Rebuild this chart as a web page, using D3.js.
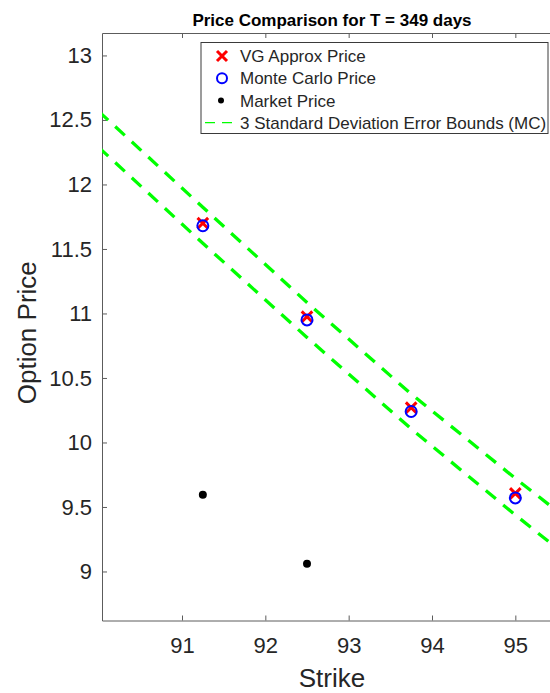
<!DOCTYPE html>
<html>
<head>
<meta charset="utf-8">
<script src="https://cdn.jsdelivr.net/npm/d3@7"></script>
<style>
  html, body { margin: 0; padding: 0; background: #fff; }
  svg { display: block; font-family: "Liberation Sans", Arial, Helvetica, sans-serif; }
</style>
</head>
<body>
<svg id="chart" width="550" height="693"></svg>
<script>
// Option prices by strike for a maturity of 349 days
const strikes = [91.25, 92.5, 93.75, 95];
const vgPrice = [11.70, 10.975, 10.27, 9.605];
const mcPrice = [11.68, 10.95, 10.24, 9.57];

const marketStrikes = [91.25, 92.5];
const marketPrice = [9.595, 9.06];

// Monte Carlo price +/- 3 standard deviations
const boundStrikes = [90, 91.25, 92.5, 93.75, 95, 96];
const upperBound = [12.567, 11.823, 11.085, 10.376, 9.722, 9.216];
const lowerBound = [12.288, 11.544, 10.814, 10.106, 9.438, 8.922];

const xTicks = [91, 92, 93, 94, 95];
const yTicks = [9, 9.5, 10, 10.5, 11, 11.5, 12, 12.5, 13];
const xLimits = [90.04, 95.56];
const yLimits = [8.62, 13.174];

const titleText = "Price Comparison for T = 349 days";
const xLabelText = "Strike";
const yLabelText = "Option Price";
const legendLabels = ["VG Approx Price", "Monte Carlo Price", "Market Price",
                      "3 Standard Deviation Error Bounds (MC)"];

const svg = d3.select("#chart");
const margin = { left: 102, top: 33 };
const plotW = 460, plotH = 587.5;
const axisColor = "#5c5c5c", textColor = "#262626";

const x = d3.scaleLinear().domain(xLimits).range([0, plotW]);
const y = d3.scaleLinear().domain(yLimits).range([plotH, 0]);

const g = svg.append("g").attr("transform", `translate(${margin.left},${margin.top})`);

g.append("defs").append("clipPath").attr("id", "plotClip")
  .append("rect").attr("width", plotW).attr("height", plotH);

// Axes with inward ticks (box style)
function styleAxis(sel) {
  sel.select(".domain").attr("stroke", axisColor).attr("stroke-width", 1);
  sel.selectAll(".tick line").attr("stroke", axisColor).attr("stroke-width", 1);
  sel.selectAll(".tick text").attr("fill", textColor)
    .style("font-size", "22px").style("font-family", "\"Liberation Sans\", Arial, sans-serif");
}

g.append("g").attr("transform", `translate(0,${plotH})`)
  .call(d3.axisBottom(x).tickValues(xTicks).tickFormat(d3.format("d"))
        .tickSizeInner(-5).tickSizeOuter(0).tickPadding(17))
  .call(styleAxis);

g.append("g")
  .call(d3.axisTop(x).tickValues(xTicks).tickFormat("")
        .tickSizeInner(-5).tickSizeOuter(0))
  .call(styleAxis);

g.append("g")
  .call(d3.axisLeft(y).tickValues(yTicks).tickFormat(d => String(d))
        .tickSizeInner(-5).tickSizeOuter(0).tickPadding(10))
  .call(styleAxis);

g.append("g").attr("transform", `translate(${plotW},0)`)
  .call(d3.axisRight(y).tickValues(yTicks).tickFormat("")
        .tickSizeInner(-5).tickSizeOuter(0))
  .call(styleAxis);

// Plot contents
const plot = g.append("g").attr("clip-path", "url(#plotClip)");

const boundLine = d3.line().x(d => x(d[0])).y(d => y(d[1]));
[upperBound, lowerBound].forEach(vals => {
  plot.append("path")
    .datum(boundStrikes.map((s, i) => [s, vals[i]]))
    .attr("d", boundLine)
    .attr("fill", "none")
    .attr("stroke", "#00ff00")
    .attr("stroke-width", 3.3)
    .attr("stroke-dasharray", "13,9.5");
});

const crossPath = h => `M${-h},${-h}L${h},${h}M${-h},${h}L${h},${-h}`;

plot.selectAll(".vg").data(strikes).enter().append("path")
  .attr("class", "vg")
  .attr("transform", (d, i) => `translate(${x(d)},${y(vgPrice[i])})`)
  .attr("d", crossPath(5.3))
  .attr("stroke", "#ff0000").attr("stroke-width", 3).attr("fill", "none");

plot.selectAll(".mc").data(strikes).enter().append("circle")
  .attr("class", "mc")
  .attr("cx", d => x(d)).attr("cy", (d, i) => y(mcPrice[i]))
  .attr("r", 5.5)
  .attr("fill", "none").attr("stroke", "#0000ff").attr("stroke-width", 2);

plot.selectAll(".mkt").data(marketStrikes).enter().append("circle")
  .attr("class", "mkt")
  .attr("cx", d => x(d)).attr("cy", (d, i) => y(marketPrice[i]))
  .attr("r", 4).attr("fill", "#000");

// Title and axis labels
svg.append("text")
  .attr("x", margin.left + plotW / 2).attr("y", 26)
  .attr("text-anchor", "middle")
  .attr("fill", "#000")
  .style("font-size", "17px").style("font-weight", "bold")
  .text(titleText);

svg.append("text")
  .attr("x", margin.left + plotW / 2).attr("y", 687)
  .attr("text-anchor", "middle")
  .attr("fill", textColor)
  .style("font-size", "26px")
  .text(xLabelText);

svg.append("text")
  .attr("transform", `translate(36,${margin.top + plotH / 2 + 6}) rotate(-90)`)
  .attr("text-anchor", "middle")
  .attr("fill", textColor)
  .style("font-size", "26px")
  .text(yLabelText);

// Legend
const legend = svg.append("g").attr("transform", "translate(201,42.5)");
legend.append("rect")
  .attr("width", 347).attr("height", 91)
  .attr("fill", "#fff").attr("stroke", "#3a3a3a").attr("stroke-width", 1);

const rowY = i => 13.5 + i * 22.2;
const mx = 21;

legend.append("path")
  .attr("transform", `translate(${mx},${rowY(0)})`)
  .attr("d", crossPath(5))
  .attr("stroke", "#ff0000").attr("stroke-width", 3).attr("fill", "none");
legend.append("circle")
  .attr("cx", mx).attr("cy", rowY(1)).attr("r", 5)
  .attr("fill", "none").attr("stroke", "#0000ff").attr("stroke-width", 2);
legend.append("circle")
  .attr("cx", mx - 1).attr("cy", rowY(2)).attr("r", 3)
  .attr("fill", "#000");
legend.append("line")
  .attr("x1", 4).attr("x2", 31).attr("y1", rowY(3)).attr("y2", rowY(3))
  .attr("stroke", "#00ff00").attr("stroke-width", 1.2)
  .attr("stroke-dasharray", "10,7");

legend.selectAll(".lt").data(legendLabels).enter().append("text")
  .attr("class", "lt")
  .attr("x", 39).attr("y", (d, i) => rowY(i))
  .attr("dy", "0.36em")
  .attr("fill", textColor)
  .style("font-size", "17px")
  .text(d => d);
</script>
</body>
</html>
